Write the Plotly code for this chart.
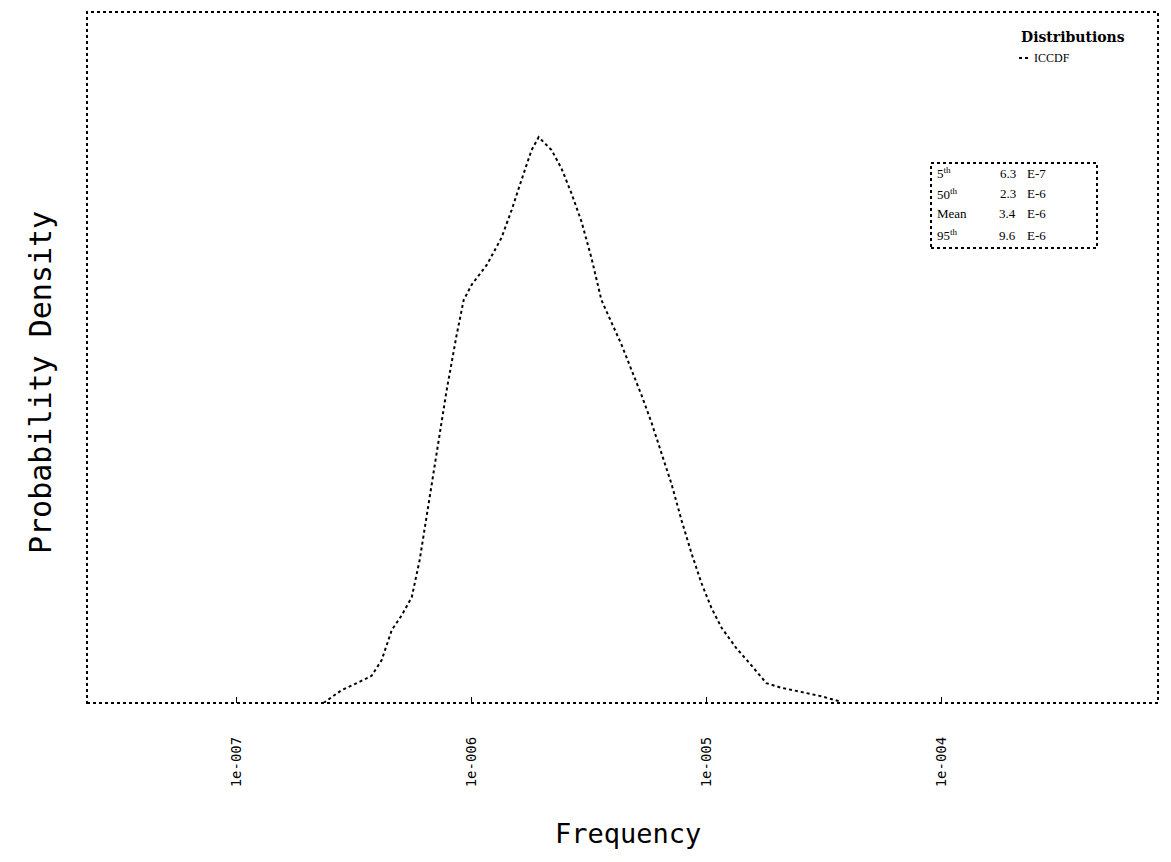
import plotly.graph_objects as go

# ---- data ----
frequency = [2.34e-7, 2.80e-7, 3.24e-7, 3.75e-7, 4.14e-7, 4.57e-7, 5.04e-7, 5.56e-7,
             6.01e-7, 6.44e-7, 7.10e-7, 7.83e-7, 8.63e-7, 9.25e-7, 1.00e-6, 1.16e-6,
             1.34e-6, 1.48e-6, 1.63e-6, 1.80e-6, 1.93e-6, 2.19e-6, 2.41e-6, 2.66e-6,
             2.94e-6, 3.24e-6, 3.57e-6, 3.94e-6, 4.35e-6, 4.80e-6, 5.29e-6, 5.83e-6,
             6.44e-6, 7.10e-6, 7.83e-6, 8.63e-6, 9.52e-6, 1.05e-5, 1.16e-5, 1.34e-5,
             1.55e-5, 1.80e-5, 2.08e-5, 2.54e-5, 3.08e-5, 3.75e-5]
density = [0.0, 0.023, 0.035, 0.048, 0.076, 0.129, 0.155, 0.187,
           0.253, 0.332, 0.447, 0.553, 0.650, 0.712, 0.739, 0.774,
           0.822, 0.871, 0.924, 0.977, 1.0, 0.977, 0.945, 0.901,
           0.850, 0.786, 0.712, 0.671, 0.633, 0.588, 0.544, 0.496,
           0.443, 0.387, 0.323, 0.265, 0.212, 0.168, 0.133, 0.097,
           0.067, 0.035, 0.027, 0.019, 0.012, 0.002]

tick_vals = [1e-7, 1e-6, 1e-5, 1e-4]
tick_text = ["1e-007", "1e-006", "1e-005", "1e-004"]

stat_labels = ["5<sup>th</sup>", "50<sup>th</sup>", "Mean", "95<sup>th</sup>"]
stat_values = ["6.3", "2.3", "3.4", "9.6"]
stat_exps = ["E-7", "E-6", "E-6", "E-6"]

legend_title = "Distributions"
series_name = "ICCDF"

# ---- layout geometry (screen pixels; page body adds an 8px offset) ----
OFF = 8
W, H = 1171 - 2 * OFF, 862 - 2 * OFF
L, R, T, B = 87, 1158, 12, 703  # target frame on screen


def px(x):
    return (x - L) / (R - L)


def py(y):
    return (B - y) / (B - T)


fig = go.Figure()
fig.add_trace(go.Scatter(x=frequency, y=density, mode="lines", name=series_name,
                         line=dict(color="black", width=2, dash="dot"),
                         showlegend=False))

fig.update_layout(
    width=W, height=H,
    margin=dict(l=L - OFF, r=W - (R - OFF), t=T - OFF, b=H - (B - OFF), pad=0),
    paper_bgcolor="white", plot_bgcolor="white",
    xaxis=dict(type="log", range=[-7.638, -3.077], tickvals=tick_vals, ticktext=tick_text,
               tickangle=-90, ticks="inside", ticklen=6, tickcolor="black",
               tickfont=dict(family="DejaVu Sans Mono", size=14, color="black"),
               ticklabelstandoff=30, showgrid=False, zeroline=False, showline=False),
    yaxis=dict(range=[0, 1.221], showticklabels=False, ticks="", showgrid=False,
               zeroline=False, showline=False),
    font=dict(family="DejaVu Sans Mono", color="black"),
)

# dotted frame
fig.add_shape(type="rect", xref="paper", yref="paper", x0=0, y0=0, x1=1, y1=1,
              line=dict(color="black", width=2, dash="dot"))

# axis titles
fig.add_annotation(text="Frequency", xref="paper", yref="paper", x=px(628), y=py(833),
                   xanchor="center", yanchor="middle", showarrow=False,
                   font=dict(family="DejaVu Sans Mono", size=27, color="black"))
fig.add_annotation(text="Probability Density", xref="paper", yref="paper", x=px(40), y=py(383),
                   xanchor="center", yanchor="middle", textangle=-90, showarrow=False,
                   font=dict(family="DejaVu Sans Mono", size=30, color="black"))

# legend
fig.add_annotation(text="<b>" + legend_title + "</b>", xref="paper", yref="paper",
                   x=px(1019), y=py(37), xanchor="left", yanchor="middle", showarrow=False,
                   font=dict(family="DejaVu Serif", size=14, color="black"))
fig.add_shape(type="line", xref="paper", yref="paper", x0=px(1019), x1=px(1031),
              y0=py(58), y1=py(58), line=dict(color="black", width=2, dash="dot"))
fig.add_annotation(text=series_name, xref="paper", yref="paper", x=px(1032), y=py(58),
                   xanchor="left", yanchor="middle", showarrow=False,
                   font=dict(family="Liberation Serif", size=12, color="black"))

# statistics box
fig.add_shape(type="rect", xref="paper", yref="paper", x0=px(931), x1=px(1097),
              y0=py(248), y1=py(163), line=dict(color="black", width=2, dash="dot"),
              fillcolor="white")
row_y = [173, 194, 214, 235]
for lab, val, ex, yy in zip(stat_labels, stat_values, stat_exps, row_y):
    fig.add_annotation(text=lab, xref="paper", yref="paper", x=px(935), y=py(yy),
                       xanchor="left", yanchor="middle", showarrow=False,
                       font=dict(family="Liberation Serif", size=13, color="black"))
    fig.add_annotation(text=val, xref="paper", yref="paper", x=px(1018), y=py(yy),
                       xanchor="right", yanchor="middle", showarrow=False,
                       font=dict(family="Liberation Serif", size=13, color="black"))
    fig.add_annotation(text=ex, xref="paper", yref="paper", x=px(1025), y=py(yy),
                       xanchor="left", yanchor="middle", showarrow=False,
                       font=dict(family="Liberation Serif", size=13, color="black"))

fig.write_html("out.html")
